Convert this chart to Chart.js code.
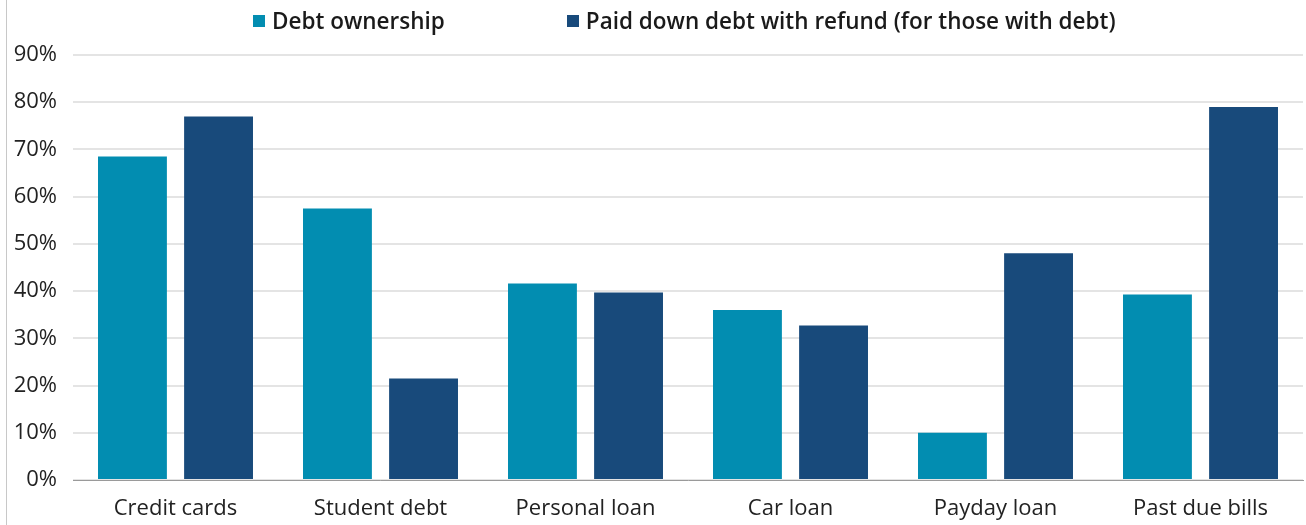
<!DOCTYPE html>
<html>
<head>
<meta charset="utf-8">
<script src="https://cdn.jsdelivr.net/npm/chart.js@4"></script>
<style>
  html, body { margin: 0; padding: 0; background: #fff; }
  #wrap { position: relative; width: 1300px; height: 525px; margin-left: 6px; box-sizing: border-box; border-left: 1px solid #c8c8c8; }
  #legend { position: absolute; top: 5px; left: 246px; display: flex; gap: 122px; font: 600 22.5px 'Open Sans', sans-serif; color: #1a1a1a; white-space: nowrap; }
  #legend span.item { display: flex; align-items: center; }
  #legend i { display: inline-block; width: 12px; height: 12px; margin-right: 7px; }
</style>
</head>
<body>
<div id="wrap"><div id="legend"></div><canvas id="chart"></canvas></div>
<script>
// ─── Data ──────────────────────────────────────────────
const categories = ['Credit cards', 'Student debt', 'Personal loan', 'Car loan', 'Payday loan', 'Past due bills'];
const debtOwnership = [68.5, 57.5, 41.6, 36.0, 10.0, 39.3];
const paidDown = [77.0, 21.5, 39.7, 32.7, 48.0, 79.0];

const C = {
    teal: '#028db1',
    navy: '#184a7b',
    grid: '#e4e4e4',
    axis: '#9a9a9a',
    text: '#222',
    font: "'Open Sans', sans-serif"
};

const chart = new Chart(document.getElementById('chart').getContext('2d'), {
    type: 'bar',
    data: {
        labels: categories,
        datasets: [
            { label: 'Debt ownership', data: debtOwnership, backgroundColor: C.teal },
            { label: 'Paid down debt with refund (for those with debt)', data: paidDown, backgroundColor: C.navy }
        ]
    },
    options: {
        responsive: true,
        maintainAspectRatio: false,
        animation: false,
        datasets: { bar: { categoryPercentage: 0.84, barPercentage: 0.8 } },
        layout: { padding: { top: 55, right: 3, bottom: 0, left: 0 } },
        plugins: {
            tooltip: { enabled: false },
            legend: { display: false }
        },
        scales: {
            x: {
                grid: { display: false },
                border: { color: C.axis, width: 1 },
                ticks: { color: C.text, font: { size: 22, family: C.font }, maxRotation: 0, padding: 8 },
                afterFit: s => { s.height = 45; }
            },
            y: {
                min: 0,
                max: 90,
                afterFit: s => { s.width = 66; },
                grid: { color: C.grid, lineWidth: 2, drawTicks: false },
                border: { display: false },
                ticks: {
                    stepSize: 10,
                    color: C.text,
                    font: { size: 22, family: C.font },
                    padding: 16,
                    callback: v => v + '%'
                }
            }
        }
    }
});

// HTML legend built from the datasets
const legend = document.getElementById('legend');
chart.data.datasets.forEach(ds => {
    const item = document.createElement('span');
    item.className = 'item';
    const box = document.createElement('i');
    box.style.background = ds.backgroundColor;
    item.appendChild(box);
    item.appendChild(document.createTextNode(ds.label));
    legend.appendChild(item);
});
</script>
</body>
</html>
